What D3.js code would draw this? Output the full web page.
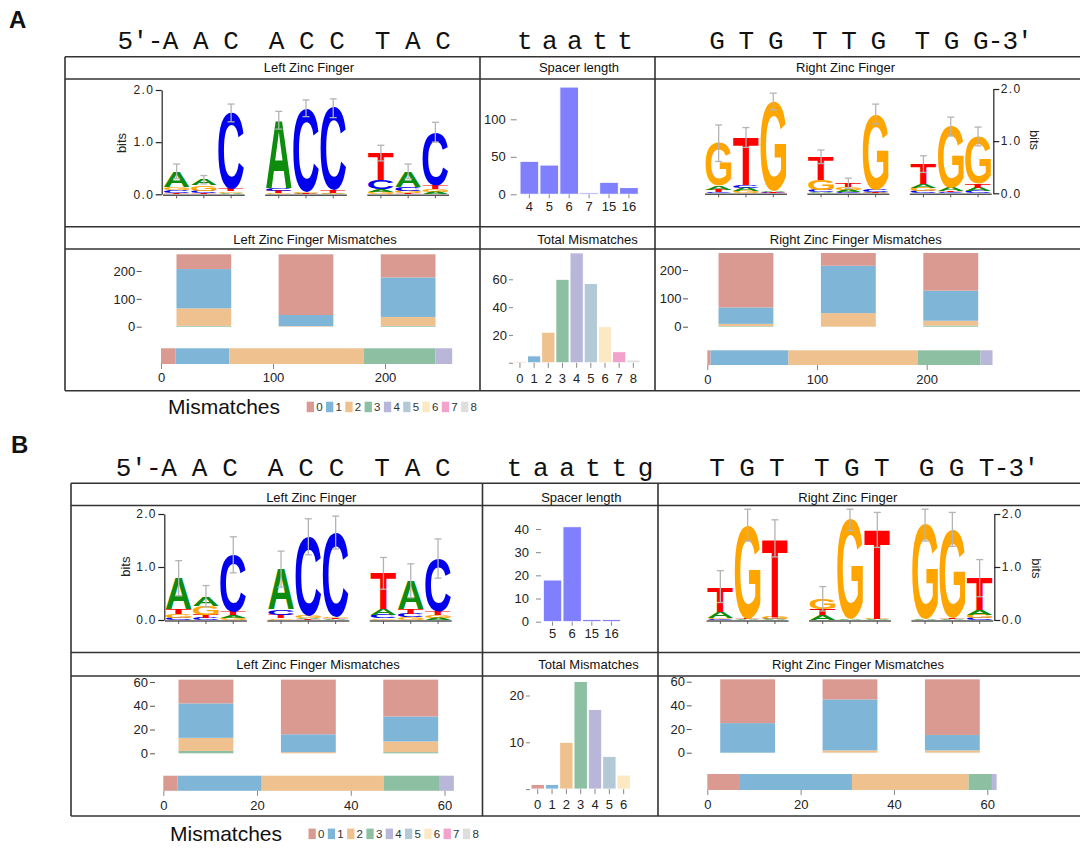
<!DOCTYPE html>
<html>
<head>
<meta charset="utf-8">
<script src="https://cdn.jsdelivr.net/npm/d3@7"></script>
<style>
    body { margin: 0; background: #fff; }
    svg { display: block; }
    .seq { font-family: "Liberation Mono", "Courier New", monospace; white-space: pre; }
</style>
</head>
<body>
<svg id="chart" width="1080" height="848"></svg>
<script>
const fontStack = "'Liberation Sans', Arial, Helvetica, sans-serif";

// ---------- shared ----------
const nucleotides = ["A", "C", "G", "T"];
const nucleotideColours = {A: "#0d8c0d", C: "#0000ee", G: "#ffa500", T: "#ff0000"};
const mismatchLabels = ["0", "1", "2", "3", "4", "5", "6", "7", "8"];
const mismatchColours = ["#da9a91", "#7fb6d8", "#eec18e", "#8dc0a3", "#b8b6d9", "#b3cad6", "#fde8c4", "#f3a2cb", "#dedede"];
const spacerColour = "#8080ff";
const logoTicks = [0, 1, 2];

// ---------- panel A data ----------
const sequenceA = ["5′-A A C  A C C  T A C", "t a a t t", "G T G  T T G  T G G-3′"];
// bits per position, columns A C G T
const leftLogoA = [
    [0.30, 0.05, 0.06, 0.03],
    [0.11, 0.04, 0.10, 0.03],
    [0.03, 1.46, 0.03, 0.04],
    [1.30, 0.06, 0.02, 0.04],
    [0.01, 1.60, 0.03, 0.01],
    [0.01, 1.58, 0.02, 0.04],
    [0.05, 0.18, 0.04, 0.52],
    [0.30, 0.07, 0.04, 0.03],
    [0.05, 1.02, 0.06, 0.06]
];
const leftLogoErrA = [0.14, 0.08, 0.17, 0.17, 0.16, 0.18, 0.15, 0.14, 0.19];
const rightLogoA = [
    [0.07, 0.03, 0.82, 0.04],
    [0.06, 0.06, 0.04, 0.91],
    [0.02, 0.01, 1.72, 0.01],
    [0.02, 0.04, 0.20, 0.44],
    [0.04, 0.03, 0.05, 0.07],
    [0.01, 0.04, 1.45, 0.02],
    [0.07, 0.04, 0.06, 0.39],
    [0.06, 0.02, 1.18, 0.02],
    [0.06, 0.04, 0.91, 0.08]
];
const rightLogoErrA = [0.35, 0.19, 0.16, 0.13, 0.10, 0.19, 0.16, 0.18, 0.18];
const spacerLengthsA = ["4", "5", "6", "7", "15", "16"];
const spacerCountsA = [44, 39, 143, 2, 16, 9];
// per finger: count of sequences with 0,1,2,3 mismatches
const leftFingerMismatchA = [[53, 141, 63, 3], [218, 40, 2, 0], [83, 142, 32, 3]];
const rightFingerMismatchA = [[192, 58, 8, 2], [45, 167, 48, 0], [133, 106, 17, 4]];
const leftSiteMismatchA = [13, 48, 120, 64, 15];
const rightSiteMismatchA = [3, 71, 118, 57, 11];
const totalMismatchA = [1, 5, 22, 60, 79, 57, 26, 8, 2];
const spacerTicksA = [0, 50, 100];
const fingerTicksA = [0, 100, 200];
const siteTicksA = [0, 100, 200];
const totalTicksA = [0, 20, 40, 60];

// ---------- panel B data ----------
const sequenceB = ["5′-A A C  A C C  T A C", "t a a t t g", "T G T  T G T  G G T-3′"];
const leftLogoB = [
    [0.59, 0.04, 0.07, 0.09],
    [0.18, 0.04, 0.17, 0.06],
    [0.05, 1.07, 0.04, 0.07],
    [0.76, 0.10, 0.03, 0.07],
    [0.02, 1.49, 0.05, 0.01],
    [0.01, 1.59, 0.03, 0.02],
    [0.11, 0.06, 0.03, 0.68],
    [0.54, 0.06, 0.05, 0.09],
    [0.04, 1.00, 0.05, 0.07]
];
const leftLogoErrB = [0.33, 0.20, 0.34, 0.34, 0.34, 0.31, 0.30, 0.32, 0.37];
const rightLogoB = [
    [0.12, 0.02, 0.02, 0.47],
    [0.01, 0.00, 1.77, 0.01],
    [0.01, 0.01, 0.04, 1.48],
    [0.09, 0.00, 0.20, 0.11],
    [0.01, 0.00, 1.88, 0.00],
    [0.01, 0.00, 0.01, 1.68],
    [0.01, 0.00, 1.78, 0.00],
    [0.01, 0.00, 1.67, 0.03],
    [0.09, 0.04, 0.06, 0.60]
];
const rightLogoErrB = [0.30, 0.30, 0.35, 0.23, 0.20, 0.33, 0.30, 0.32, 0.35];
const spacerLengthsB = ["5", "6", "15", "16"];
const spacerCountsB = [18, 41, 1, 1];
const leftFingerMismatchB = [[20, 29, 11, 2], [46, 15, 1, 0], [31, 21, 9, 1]];
const rightFingerMismatchB = [[37, 25, 0, 0], [17, 43, 2, 0], [47, 13, 2, 0]];
const leftSiteMismatchB = [3, 18, 26, 12, 3];
const rightSiteMismatchB = [7, 24, 25, 5, 1];
const totalMismatchB = [1, 1, 10, 23, 17, 7, 3];
const spacerTicksB = [0, 10, 20, 30, 40];
const fingerTicksB = [0, 20, 40, 60];
const siteTicksB = [0, 20, 40, 60];
const totalTicksB = [0, 10, 20];

// ---------- layout ----------
const layoutA = {
    tag: [9, 28], seqY: 49,
    seq: [[117.4, 333.5], [516.9, 116], [709.3, 323.4]],
    box: {x0: 65, x1: 1080, cols: [480, 655], rows: [56.7, 79, 226.7, 249, 390.7]},
    titles: [["Left Zinc Finger", 309, 72.3], ["Spacer length", 579, 72.3], ["Right Zinc Finger", 845.5, 72.3],
        ["Left Zinc Finger Mismatches", 315, 243.6], ["Total Mismatches", 587.5, 243.6], ["Right Zinc Finger Mismatches", 855.8, 243.6]],
    leftLogo: {groups: [163, 449], y: [194.3, 90], axisX: 161.7, side: "left", bits: [121.7, 143]},
    rightLogo: {groups: [705, 991.7], y: [193.3, 89], axisX: 993.3, side: "right", bits: [1035, 140]},
    spacer: {x: [520, 638.3], yDomain: [0, 100], yRange: [194.3, 119.3], axisX: 516.7, tick: 6, pad: 5, xTick: 4, xPad: 3.5},
    total: {x: [513.3, 640], yDomain: [0, 60], yRange: [362.8, 279.3], axisX: 513, tick: 4, pad: 2, xTick: 5, xPad: 5.5},
    leftFinger: {yDomain: [0, 200], yRange: [326.7, 271], axisX: 141.7, tick: 5, pad: 1.5},
    rightFinger: {yDomain: [0, 200], yRange: [326.7, 270], axisX: 688, tick: 5, pad: 1.5},
    leftSite: {xDomain: [0, 200], xRange: [161, 385], y: [348.3, 364], pad: 4},
    rightSite: {xDomain: [0, 200], xRange: [707.3, 926.7], y: [350.3, 365], pad: 4.3},
    legend: {textX: 168, textY: 414, x0: 306.7, y0: 401.7, step: 19.3}
};
const layoutB = {
    tag: [11, 453], seqY: 475.5,
    seq: [[115.7, 335], [506.7, 146.7], [709.2, 330]],
    box: {x0: 71, x1: 1080, cols: [482.5, 658], rows: [483.3, 505.5, 652.5, 676, 816]},
    titles: [["Left Zinc Finger", 311.3, 501.9], ["Spacer length", 581.3, 501.9], ["Right Zinc Finger", 847.8, 501.9],
        ["Left Zinc Finger Mismatches", 318, 669], ["Total Mismatches", 588.5, 669], ["Right Zinc Finger Mismatches", 858, 669]],
    leftLogo: {groups: [165, 451.7], y: [620, 514], axisX: 164.3, side: "left", bits: [125, 566.7]},
    rightLogo: {groups: [706.7, 993.3], y: [620, 514], axisX: 994.3, side: "right", bits: [1036.7, 568.3]},
    spacer: {x: [543.3, 620.7], yDomain: [0, 40], yRange: [621.7, 529], axisX: 541, tick: 5, pad: 7, xTick: 4, xPad: 3},
    total: {x: [531, 630.4], yDomain: [0, 20], yRange: [789.1, 695.5], axisX: 530, tick: 4, pad: 2, xTick: 5, xPad: 6},
    leftFinger: {yDomain: [0, 60], yRange: [753.3, 682], axisX: 155, tick: 5, pad: 2},
    rightFinger: {yDomain: [0, 60], yRange: [752.7, 681.7], axisX: 691.7, tick: 5, pad: 1.7},
    leftSite: {xDomain: [0, 60], xRange: [163.3, 444.5], y: [775.7, 790.8], pad: 4.7},
    rightSite: {xDomain: [0, 60], xRange: [707.3, 987.3], y: [774, 790], pad: 4.3},
    legend: {textX: 170, textY: 841, x0: 308.5, y0: 828.6, step: 19.3}
};

// ---------- glyph metrics for stretched logo letters ----------
const measureCtx = document.createElement("canvas").getContext("2d");
measureCtx.font = "bold 100px 'Liberation Sans', Arial, sans-serif";
const glyphBox = {};
nucleotides.forEach(n => {
    const m = measureCtx.measureText(n);
    glyphBox[n] = {
        left: m.actualBoundingBoxLeft || 0,
        right: m.actualBoundingBoxRight || 70,
        ascent: m.actualBoundingBoxAscent || 72,
        descent: m.actualBoundingBoxDescent || 0
    };
});

const svg = d3.select("#chart").attr("font-family", fontStack);

function styleAxis(axisG, size) {
    axisG.attr("font-family", fontStack).attr("font-size", size || 13);
    axisG.select(".domain").remove();
    axisG.selectAll(".tick line").attr("stroke", "#888");
    axisG.selectAll(".tick text").attr("fill", "#222");
}

function drawBox(g, box) {
    const lines = g.append("g").attr("stroke", "#333").attr("stroke-width", 1.6);
    box.rows.forEach(yy => lines.append("line")
        .attr("x1", box.x0).attr("x2", box.x1).attr("y1", yy).attr("y2", yy));
    [box.x0, ...box.cols].forEach(xx => lines.append("line")
        .attr("x1", xx).attr("x2", xx).attr("y1", box.rows[0]).attr("y2", box.rows[box.rows.length - 1]));
}

function drawLogo(g, columns, errors, L) {
    const xGroup = d3.scaleBand().domain(d3.range(3)).range(L.groups).paddingInner(0.2);
    const xPos = d3.scaleBand().domain(d3.range(3)).range([0, xGroup.bandwidth()]);
    const y = d3.scaleLinear().domain([0, 2]).range(L.y);
    const logo = g.append("g");

    columns.forEach((col, i) => {
        const x0 = xGroup(Math.floor(i / 3)) + xPos(i % 3);
        const w = xPos.bandwidth() * 0.94;
        const xl = x0 + (xPos.bandwidth() - w) / 2;
        const stack = nucleotides.map((n, k) => ({n, h: col[k]})).sort((a, b) => a.h - b.h);
        let cum = 0;
        stack.forEach(s => {
            const top = y(cum + s.h), bottom = y(cum);
            cum += s.h;
            const h = bottom - top;
            if (h < 0.25) return;
            const gb = glyphBox[s.n];
            const sx = w / (gb.left + gb.right), sy = h / (gb.ascent + gb.descent);
            logo.append("text")
                .attr("transform", `translate(${xl + gb.left * sx},${top + gb.ascent * sy}) scale(${sx},${sy})`)
                .attr("font-family", "'Liberation Sans', Arial, sans-serif")
                .attr("font-weight", "bold").attr("font-size", 100)
                .attr("fill", nucleotideColours[s.n]).text(s.n);
        });
    });

    // baselines with position ticks
    const base = g.append("g").attr("stroke", "#555").attr("stroke-width", 1.5);
    d3.range(3).forEach(k => {
        base.append("line").attr("x1", xGroup(k)).attr("x2", xGroup(k) + xGroup.bandwidth())
            .attr("y1", y(0) + 1).attr("y2", y(0) + 1);
        d3.range(3).forEach(j => {
            const cx = xGroup(k) + xPos(j) + xPos.bandwidth() / 2;
            base.append("line").attr("x1", cx).attr("x2", cx).attr("y1", y(0) + 1).attr("y2", y(0) + 4)
                .attr("stroke-width", 1);
        });
    });

    // error bars
    const err = g.append("g").attr("stroke", "#b4b4b4").attr("stroke-width", 1.3);
    columns.forEach((col, i) => {
        const cx = xGroup(Math.floor(i / 3)) + xPos(i % 3) + xPos.bandwidth() / 2;
        const top = d3.sum(col);
        const y1 = y(top + errors[i]), y2 = y(Math.max(0, top - errors[i]));
        err.append("line").attr("x1", cx).attr("x2", cx).attr("y1", y1).attr("y2", y2);
        err.append("line").attr("x1", cx - 3.5).attr("x2", cx + 3.5).attr("y1", y1).attr("y2", y1);
        err.append("line").attr("x1", cx - 3.5).attr("x2", cx + 3.5).attr("y1", y2).attr("y2", y2);
    });

    // bits axis
    const axis = (L.side === "left" ? d3.axisLeft(y) : d3.axisRight(y))
        .tickValues(logoTicks).tickFormat(d3.format(".1f")).tickSize(6).tickSizeOuter(0).tickPadding(1.5);
    const ag = g.append("g").attr("transform", `translate(${L.axisX},0)`).call(axis);
    ag.attr("font-family", fontStack).attr("font-size", 12);
    ag.select(".domain").attr("stroke", "#222").attr("stroke-width", 1.2);
    ag.selectAll(".tick line").attr("stroke", "#222").attr("stroke-width", 1.2);
    ag.selectAll(".tick text").attr("fill", "#222").attr("letter-spacing", 1.3);

    g.append("text")
        .attr("transform", `translate(${L.bits[0]},${L.bits[1]}) rotate(${L.side === "left" ? -90 : 90})`)
        .attr("text-anchor", "middle").attr("dy", "0.35em")
        .attr("font-size", 13).attr("fill", "#222").text("bits");
}

function drawColumnChart(g, cats, values, colourOf, ticks, L, hideZero) {
    const x = d3.scaleBand().domain(cats).range(L.x).paddingInner(0.06);
    const y = d3.scaleLinear().domain(L.yDomain).range(L.yRange);
    g.append("g").selectAll("rect").data(values).join("rect")
        .attr("x", (v, i) => x(cats[i]))
        .attr("width", x.bandwidth())
        .attr("y", v => y(v))
        .attr("height", v => y(0) - y(v))
        .attr("fill", (v, i) => colourOf(i))
        .attr("stroke", "#fff").attr("stroke-width", 1);

    const ya = g.append("g").attr("transform", `translate(${L.axisX},0)`)
        .call(d3.axisLeft(y).tickValues(ticks).tickSize(L.tick).tickPadding(L.pad)
            .tickFormat(d => (hideZero && d === 0) ? "" : d));
    styleAxis(ya);
    const xa = g.append("g").attr("transform", `translate(0,${y(0)})`)
        .call(d3.axisBottom(x).tickSize(L.xTick).tickPadding(L.xPad));
    styleAxis(xa);
}

function drawFingerBars(g, counts, ticks, L, groupRange) {
    const xGroup = d3.scaleBand().domain(d3.range(counts.length)).range(groupRange).paddingInner(0.2);
    const barW = xGroup.bandwidth() * 0.67;
    const y = d3.scaleLinear().domain(L.yDomain).range(L.yRange);
    const keys = mismatchLabels.slice(0, counts[0].length).reverse();
    const rows = counts.map(c => Object.fromEntries(c.map((v, i) => [mismatchLabels[i], v])));
    const series = d3.stack().keys(keys)(rows);

    g.append("g").selectAll("g").data(series).join("g")
        .attr("fill", s => mismatchColours[+s.key])
        .selectAll("rect").data(s => s).join("rect")
        .attr("x", (p, i) => xGroup(i) + (xGroup.bandwidth() - barW) / 2)
        .attr("width", barW)
        .attr("y", p => y(p[1]))
        .attr("height", p => y(p[0]) - y(p[1]));

    const ya = g.append("g").attr("transform", `translate(${L.axisX},0)`)
        .call(d3.axisLeft(y).tickValues(ticks).tickSize(L.tick).tickPadding(L.pad));
    styleAxis(ya);
    ya.selectAll(".tick line").attr("stroke", "#555");
}

function drawSiteBar(g, counts, ticks, L) {
    const x = d3.scaleLinear().domain(L.xDomain).range(L.xRange);
    const ends = d3.cumsum(counts);
    g.append("g").selectAll("rect").data(counts).join("rect")
        .attr("x", (v, i) => x(ends[i] - v))
        .attr("width", v => x(v) - x(0))
        .attr("y", L.y[0])
        .attr("height", L.y[1] - L.y[0])
        .attr("fill", (v, i) => mismatchColours[i]);
    const xa = g.append("g").attr("transform", `translate(0,${L.y[1]})`)
        .call(d3.axisBottom(x).tickValues(ticks).tickSize(5).tickPadding(L.pad));
    styleAxis(xa);
}

function drawLegend(g, L) {
    g.append("text").attr("x", L.textX).attr("y", L.textY)
        .attr("font-size", 21).attr("fill", "#111").text("Mismatches");
    const item = g.append("g").selectAll("g").data(mismatchLabels).join("g")
        .attr("transform", (d, i) => `translate(${L.x0 + i * L.step},${L.y0})`);
    item.append("rect").attr("width", 7.3).attr("height", 10.5)
        .attr("fill", (d, i) => mismatchColours[i]);
    item.append("text").attr("x", 9.5).attr("y", 9.3)
        .attr("font-size", 11.5).attr("fill", "#333").text(d => d);
}

function drawPanel(tag, d, L) {
    const g = svg.append("g");
    g.append("text").attr("x", L.tag[0]).attr("y", L.tag[1])
        .attr("font-size", 24).attr("font-weight", "bold").attr("fill", "#111").text(tag);

    d.sequence.forEach((s, i) => {
        g.append("text").attr("class", "seq").attr("xml:space", "preserve")
            .attr("x", L.seq[i][0]).attr("y", L.seqY)
            .attr("textLength", L.seq[i][1]).attr("lengthAdjust", "spacing")
            .attr("font-size", 26).attr("fill", "#111").text(s);
    });

    drawBox(g, L.box);
    L.titles.forEach(t => g.append("text").attr("x", t[1]).attr("y", t[2])
        .attr("text-anchor", "middle").attr("font-size", 13).attr("fill", "#111").text(t[0]));

    drawLogo(g, d.leftLogo, d.leftLogoErr, L.leftLogo);
    drawLogo(g, d.rightLogo, d.rightLogoErr, L.rightLogo);
    drawColumnChart(g, d.spacerLengths, d.spacerCounts, () => spacerColour, d.spacerTicks, L.spacer, false);
    drawColumnChart(g, mismatchLabels.slice(0, d.totalMismatch.length), d.totalMismatch,
        i => mismatchColours[i], d.totalTicks, L.total, true);
    drawFingerBars(g, d.leftFinger, d.fingerTicks, L.leftFinger, L.leftLogo.groups);
    drawFingerBars(g, d.rightFinger, d.fingerTicks, L.rightFinger, L.rightLogo.groups);
    drawSiteBar(g, d.leftSite, d.siteTicks, L.leftSite);
    drawSiteBar(g, d.rightSite, d.siteTicks, L.rightSite);
    drawLegend(g, L.legend);
}

drawPanel("A", {
    sequence: sequenceA,
    leftLogo: leftLogoA, leftLogoErr: leftLogoErrA,
    rightLogo: rightLogoA, rightLogoErr: rightLogoErrA,
    spacerLengths: spacerLengthsA, spacerCounts: spacerCountsA, spacerTicks: spacerTicksA,
    totalMismatch: totalMismatchA, totalTicks: totalTicksA,
    leftFinger: leftFingerMismatchA, rightFinger: rightFingerMismatchA, fingerTicks: fingerTicksA,
    leftSite: leftSiteMismatchA, rightSite: rightSiteMismatchA, siteTicks: siteTicksA
}, layoutA);

drawPanel("B", {
    sequence: sequenceB,
    leftLogo: leftLogoB, leftLogoErr: leftLogoErrB,
    rightLogo: rightLogoB, rightLogoErr: rightLogoErrB,
    spacerLengths: spacerLengthsB, spacerCounts: spacerCountsB, spacerTicks: spacerTicksB,
    totalMismatch: totalMismatchB, totalTicks: totalTicksB,
    leftFinger: leftFingerMismatchB, rightFinger: rightFingerMismatchB, fingerTicks: fingerTicksB,
    leftSite: leftSiteMismatchB, rightSite: rightSiteMismatchB, siteTicks: siteTicksB
}, layoutB);
</script>
</body>
</html>
